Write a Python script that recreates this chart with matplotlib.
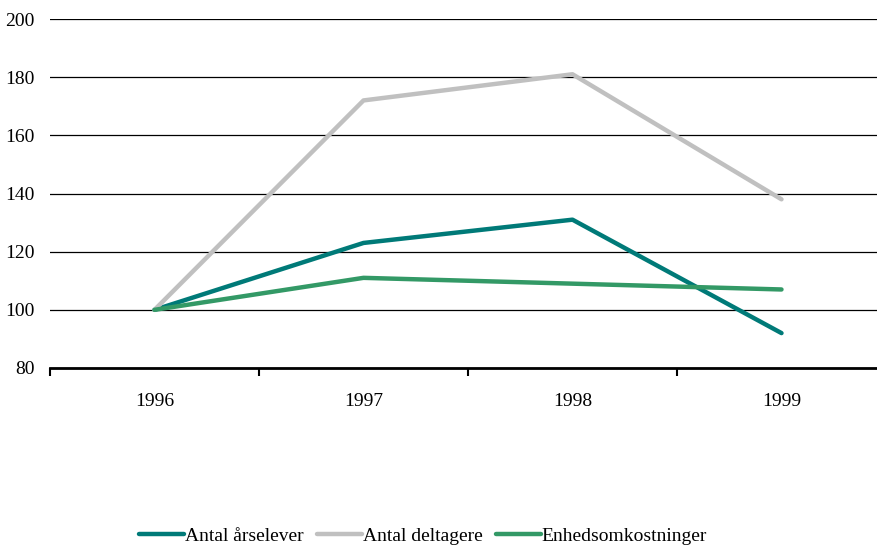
import matplotlib
matplotlib.use("Agg")
import matplotlib.pyplot as plt

plt.rcParams['font.family'] = ['Liberation Serif', 'DejaVu Serif']

years = ['1996', '1997', '1998', '1999']
aarselever = [100, 123, 131, 92]
deltagere = [100, 172, 181, 138]
enhedsomk = [100, 111, 109, 107]

fig = plt.figure(figsize=(8.78, 5.49), dpi=100)
ax = fig.add_axes([50 / 878, 1 - 368 / 549, 836 / 878, 349 / 549])

x = range(len(years))
ax.plot(x, aarselever, color='#007A78', lw=3.2, label='Antal årselever', solid_capstyle='round')
ax.plot(x, deltagere, color='#C0C0C0', lw=3.2, label='Antal deltagere', solid_capstyle='round')
ax.plot(x, enhedsomk, color='#339966', lw=3.2, label='Enhedsomkostninger', solid_capstyle='round')

ax.set_xlim(-0.5, 3.5)
ax.set_ylim(80, 200)
ax.set_yticks(range(80, 201, 20))
ax.yaxis.grid(True, color='black', lw=0.9)
ax.set_axisbelow(True)
for s in ['top', 'right', 'left']:
    ax.spines[s].set_visible(False)
ax.spines['bottom'].set_linewidth(2)
ax.tick_params(axis='y', length=0, pad=11, labelsize=14)

ax.set_xticks([-0.5, 0.5, 1.5, 2.5, 3.5])
ax.set_xticklabels([])
ax.set_xticks(list(x), minor=True)
ax.set_xticklabels(years, minor=True)
ax.tick_params(axis='x', which='major', length=6, width=1.5, direction='out')
ax.tick_params(axis='x', which='minor', length=0, pad=18, labelsize=14)

fig.legend(loc='center', bbox_to_anchor=(0.482, 1 - 536 / 549), ncol=3, frameon=False,
           fontsize=14, handlelength=2.3, handletextpad=0.05, columnspacing=0.7,
           borderpad=0.2)

fig.savefig('out.png', dpi=100)
